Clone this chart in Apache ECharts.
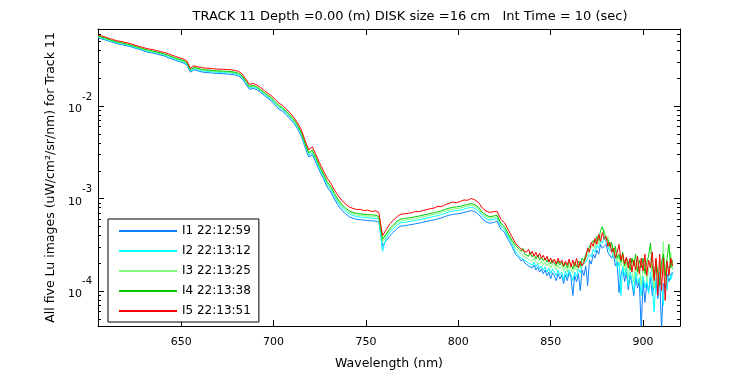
<!DOCTYPE html>
<html>
<head>
<meta charset="utf-8">
<script src="https://cdn.jsdelivr.net/npm/echarts@6/dist/echarts.min.js"></script>
<style>
html,body{margin:0;padding:0;background:#fff;}
#chart{width:750px;height:375px;}
</style>
</head>
<body>
<div id="chart"></div>
<script>
// ---------- data ----------
const wavelength = [
605,607,609,611,613,615,617,619,621,623,625,627,629,631,633,635,637,639,641,643,
645,647,649,651,653,655,657,659,661,663,665,667,669,671,673,675,677,679,681,683,
685,687,689,691,693,695,697,699,701,703,705,707,709,711,713,715,717,719,721,723,
725,727,729,731,733,735,737,739,741,743,745,747,749,751,753,755,757,759,761,763,
765,767,769,771,773,775,777,779,781,783,785,787,789,791,793,795,797,799,801,803,
805,807,809,811,813,815,817,819,821,823,825,827,829,
830,831,832,833,834,835,836,837,838,839,840,841,842,843,844,845,846,847,848,849,
850,851,852,853,854,855,856,857,858,859,860,861,862,863,864,865,866,867,868,869,
870,871,872,873,874,875,876,877,878,879,880,881,882,883,884,885,886,887,888,889,
890,891,892,893,894,895,896,897,898,899,900,901,902,903,904,905,906,907,908,909,
910,911,912,913,914,915,916
];

const I1 = [
5.46e-2,5.31e-2,5.17e-2,5.01e-2,4.87e-2,4.73e-2,4.65e-2,4.55e-2,4.46e-2,4.35e-2,
4.23e-2,4.11e-2,4.00e-2,3.86e-2,3.78e-2,3.72e-2,3.64e-2,3.55e-2,3.47e-2,3.33e-2,
3.22e-2,3.11e-2,3.01e-2,2.93e-2,2.78e-2,2.32e-2,2.47e-2,2.40e-2,2.34e-2,2.30e-2,
2.29e-2,2.27e-2,2.25e-2,2.24e-2,2.23e-2,2.22e-2,2.20e-2,2.17e-2,2.10e-2,1.97e-2,
1.73e-2,1.51e-2,1.55e-2,1.50e-2,1.40e-2,1.30e-2,1.21e-2,1.13e-2,1.01e-2,9.23e-3,
8.72e-3,7.96e-3,7.23e-3,6.48e-3,5.66e-3,4.69e-3,3.60e-3,2.82e-3,2.96e-3,2.43e-3,
1.97e-3,1.64e-3,1.33e-3,1.17e-3,9.86e-4,8.38e-4,7.42e-4,6.81e-4,6.33e-4,6.10e-4,
5.94e-4,5.88e-4,5.83e-4,5.76e-4,5.74e-4,5.68e-4,5.53e-4,3.03e-4,3.51e-4,3.97e-4,
4.34e-4,4.77e-4,5.04e-4,5.07e-4,5.16e-4,5.22e-4,5.33e-4,5.42e-4,5.53e-4,5.65e-4,
5.77e-4,5.87e-4,6.02e-4,6.17e-4,6.39e-4,6.58e-4,6.71e-4,6.80e-4,6.89e-4,7.04e-4,
7.23e-4,7.38e-4,7.18e-4,6.72e-4,6.02e-4,5.60e-4,5.39e-4,5.49e-4,5.67e-4,4.66e-4,
4.28e-4,3.60e-4,3.03e-4,
2.75e-4,2.49e-4,2.37e-4,2.26e-4,2.10e-4,2.21e-4,2.00e-4,2.05e-4,1.86e-4,1.95e-4,
1.77e-4,1.90e-4,1.68e-4,1.81e-4,1.60e-4,1.73e-4,1.53e-4,1.68e-4,1.46e-4,1.60e-4,
1.35e-4,1.57e-4,1.46e-4,1.29e-4,1.53e-4,1.35e-4,1.49e-4,1.20e-4,1.49e-4,1.29e-4,
1.57e-4,1.39e-4,8.91e-5,1.46e-4,1.26e-4,1.53e-4,1.01e-4,1.68e-4,1.46e-4,1.86e-4,
1.14e-4,2.15e-4,1.95e-4,2.49e-4,2.26e-4,2.75e-4,2.49e-4,3.19e-4,2.89e-4,3.03e-4,
3.19e-4,2.62e-4,2.75e-4,2.26e-4,2.49e-4,1.86e-4,2.05e-4,9.59e-5,1.46e-4,1.77e-4,
1.26e-4,1.60e-4,1.03e-4,1.46e-4,1.20e-4,8.91e-5,1.39e-4,1.08e-4,1.26e-4,3.78e-5,
1.32e-4,7.51e-5,1.20e-4,9.83e-5,1.39e-4,8.91e-5,1.14e-4,1.26e-4,8.28e-5,1.46e-4,
3.78e-5,1.20e-4,1.08e-4,1.53e-4,1.26e-4,1.46e-4,1.60e-4
];

const I2 = [
5.57e-2,5.42e-2,5.27e-2,5.11e-2,4.97e-2,4.83e-2,4.74e-2,4.65e-2,4.55e-2,4.44e-2,
4.31e-2,4.19e-2,4.09e-2,3.95e-2,3.87e-2,3.81e-2,3.72e-2,3.64e-2,3.55e-2,3.42e-2,
3.31e-2,3.20e-2,3.09e-2,3.01e-2,2.86e-2,2.39e-2,2.54e-2,2.47e-2,2.41e-2,2.37e-2,
2.37e-2,2.34e-2,2.32e-2,2.31e-2,2.30e-2,2.29e-2,2.27e-2,2.24e-2,2.17e-2,2.04e-2,
1.79e-2,1.57e-2,1.60e-2,1.55e-2,1.45e-2,1.35e-2,1.25e-2,1.17e-2,1.05e-2,9.63e-3,
9.09e-3,8.30e-3,7.54e-3,6.76e-3,5.90e-3,4.92e-3,3.77e-3,2.96e-3,3.12e-3,2.57e-3,
2.08e-3,1.73e-3,1.42e-3,1.25e-3,1.05e-3,8.97e-4,7.94e-4,7.29e-4,6.77e-4,6.53e-4,
6.35e-4,6.29e-4,6.23e-4,6.17e-4,6.14e-4,6.08e-4,5.92e-4,2.68e-4,3.79e-4,4.31e-4,
4.72e-4,5.18e-4,5.47e-4,5.51e-4,5.61e-4,5.67e-4,5.78e-4,5.88e-4,6.00e-4,6.13e-4,
6.27e-4,6.37e-4,6.54e-4,6.70e-4,6.93e-4,7.14e-4,7.28e-4,7.39e-4,7.48e-4,7.65e-4,
7.86e-4,8.01e-4,7.80e-4,7.30e-4,6.49e-4,6.04e-4,5.82e-4,5.92e-4,6.07e-4,4.99e-4,
4.58e-4,3.85e-4,3.24e-4,
2.89e-4,2.68e-4,2.49e-4,2.43e-4,2.26e-4,2.32e-4,2.15e-4,2.21e-4,2.00e-4,2.10e-4,
1.90e-4,2.05e-4,1.81e-4,1.95e-4,1.73e-4,1.86e-4,1.68e-4,1.81e-4,1.60e-4,1.77e-4,
1.53e-4,1.73e-4,1.60e-4,1.46e-4,1.68e-4,1.49e-4,1.60e-4,1.32e-4,1.64e-4,1.42e-4,
1.68e-4,1.49e-4,1.29e-4,1.60e-4,1.42e-4,1.73e-4,1.57e-4,1.86e-4,1.77e-4,2.05e-4,
2.15e-4,2.49e-4,2.32e-4,2.82e-4,2.62e-4,3.11e-4,2.89e-4,3.51e-4,3.27e-4,3.87e-4,
3.35e-4,3.51e-4,2.68e-4,2.89e-4,2.26e-4,2.49e-4,1.77e-4,2.05e-4,8.91e-5,1.86e-4,
1.46e-4,1.77e-4,1.14e-4,1.60e-4,1.32e-4,9.83e-5,1.60e-4,1.20e-4,1.39e-4,8.91e-5,
1.46e-4,1.08e-4,1.32e-4,9.36e-5,1.60e-4,1.20e-4,5.88e-5,1.39e-4,8.91e-5,1.60e-4,
1.14e-4,6.98e-5,1.46e-4,1.01e-4,1.86e-4,1.32e-4,1.53e-4
];

const I3 = [
5.64e-2,5.49e-2,5.34e-2,5.17e-2,5.03e-2,4.89e-2,4.80e-2,4.70e-2,4.61e-2,4.49e-2,
4.37e-2,4.24e-2,4.14e-2,4.01e-2,3.93e-2,3.86e-2,3.78e-2,3.69e-2,3.61e-2,3.48e-2,
3.36e-2,3.25e-2,3.14e-2,3.06e-2,2.91e-2,2.42e-2,2.58e-2,2.51e-2,2.46e-2,2.42e-2,
2.41e-2,2.38e-2,2.36e-2,2.35e-2,2.34e-2,2.33e-2,2.31e-2,2.28e-2,2.22e-2,2.09e-2,
1.82e-2,1.60e-2,1.64e-2,1.58e-2,1.48e-2,1.37e-2,1.28e-2,1.20e-2,1.08e-2,9.88e-3,
9.32e-3,8.51e-3,7.73e-3,6.93e-3,6.05e-3,5.07e-3,3.89e-3,3.05e-3,3.23e-3,2.66e-3,
2.16e-3,1.79e-3,1.47e-3,1.29e-3,1.09e-3,9.35e-4,8.29e-4,7.60e-4,7.06e-4,6.81e-4,
6.62e-4,6.56e-4,6.50e-4,6.43e-4,6.41e-4,6.34e-4,6.17e-4,3.35e-4,3.97e-4,4.54e-4,
4.96e-4,5.45e-4,5.75e-4,5.80e-4,5.90e-4,5.97e-4,6.08e-4,6.19e-4,6.31e-4,6.45e-4,
6.60e-4,6.71e-4,6.88e-4,7.05e-4,7.29e-4,7.51e-4,7.66e-4,7.77e-4,7.87e-4,8.04e-4,
8.26e-4,8.42e-4,8.20e-4,7.68e-4,6.79e-4,6.32e-4,6.09e-4,6.19e-4,6.33e-4,5.20e-4,
4.77e-4,4.02e-4,3.38e-4,
3.11e-4,2.89e-4,2.75e-4,2.62e-4,2.49e-4,2.56e-4,2.32e-4,2.43e-4,2.21e-4,2.32e-4,
2.10e-4,2.26e-4,2.05e-4,2.15e-4,1.95e-4,2.10e-4,1.90e-4,2.05e-4,1.86e-4,2.00e-4,
1.77e-4,1.95e-4,1.81e-4,1.68e-4,1.90e-4,1.73e-4,1.86e-4,1.64e-4,1.81e-4,1.60e-4,
1.86e-4,1.68e-4,1.57e-4,1.86e-4,1.64e-4,1.95e-4,1.77e-4,2.05e-4,1.95e-4,2.26e-4,
2.37e-4,2.75e-4,2.62e-4,3.19e-4,2.89e-4,3.51e-4,3.19e-4,3.87e-4,4.07e-4,4.60e-4,
3.51e-4,3.87e-4,2.89e-4,3.19e-4,2.37e-4,2.75e-4,2.05e-4,2.37e-4,1.86e-4,2.26e-4,
1.64e-4,2.05e-4,1.39e-4,1.95e-4,1.60e-4,1.26e-4,2.05e-4,1.46e-4,1.86e-4,1.14e-4,
1.77e-4,1.95e-4,1.26e-4,1.68e-4,2.26e-4,1.46e-4,1.08e-4,1.86e-4,1.29e-4,2.05e-4,
1.53e-4,3.43e-4,1.20e-4,1.95e-4,1.60e-4,2.62e-4,1.68e-4
];

const I4 = [
5.71e-2,5.55e-2,5.40e-2,5.23e-2,5.09e-2,4.94e-2,4.86e-2,4.76e-2,4.66e-2,4.54e-2,
4.42e-2,4.29e-2,4.19e-2,4.06e-2,3.98e-2,3.91e-2,3.83e-2,3.74e-2,3.65e-2,3.53e-2,
3.42e-2,3.30e-2,3.19e-2,3.11e-2,2.95e-2,2.46e-2,2.62e-2,2.55e-2,2.50e-2,2.46e-2,
2.45e-2,2.42e-2,2.40e-2,2.39e-2,2.38e-2,2.37e-2,2.35e-2,2.32e-2,2.26e-2,2.12e-2,
1.86e-2,1.63e-2,1.67e-2,1.61e-2,1.50e-2,1.40e-2,1.30e-2,1.22e-2,1.10e-2,1.01e-2,
9.52e-3,8.69e-3,7.90e-3,7.08e-3,6.19e-3,5.20e-3,3.99e-3,3.13e-3,3.33e-3,2.74e-3,
2.22e-3,1.84e-3,1.52e-3,1.34e-3,1.13e-3,9.70e-4,8.60e-4,7.89e-4,7.33e-4,7.07e-4,
6.88e-4,6.81e-4,6.75e-4,6.68e-4,6.65e-4,6.58e-4,6.40e-4,3.62e-4,4.13e-4,4.74e-4,
5.18e-4,5.69e-4,6.01e-4,6.05e-4,6.16e-4,6.23e-4,6.36e-4,6.46e-4,6.60e-4,6.74e-4,
6.89e-4,7.01e-4,7.18e-4,7.36e-4,7.62e-4,7.85e-4,8.00e-4,8.12e-4,8.22e-4,8.40e-4,
8.63e-4,8.80e-4,8.57e-4,8.02e-4,7.08e-4,6.58e-4,6.34e-4,6.45e-4,6.57e-4,5.40e-4,
4.95e-4,4.17e-4,3.51e-4,
3.35e-4,3.11e-4,3.03e-4,2.82e-4,2.68e-4,2.89e-4,2.49e-4,2.56e-4,2.37e-4,2.62e-4,
2.32e-4,2.49e-4,2.21e-4,2.43e-4,2.15e-4,2.32e-4,2.10e-4,2.26e-4,2.05e-4,2.21e-4,
1.95e-4,2.15e-4,2.05e-4,1.86e-4,2.10e-4,1.90e-4,2.05e-4,1.81e-4,2.00e-4,1.77e-4,
2.05e-4,1.95e-4,1.73e-4,2.05e-4,1.81e-4,2.10e-4,1.86e-4,2.26e-4,2.10e-4,2.49e-4,
2.68e-4,3.03e-4,2.89e-4,3.51e-4,3.27e-4,3.87e-4,3.51e-4,4.49e-4,4.95e-4,4.07e-4,
4.27e-4,3.51e-4,3.03e-4,3.35e-4,2.62e-4,3.03e-4,2.26e-4,2.49e-4,2.05e-4,2.62e-4,
1.86e-4,2.26e-4,2.05e-4,1.68e-4,2.26e-4,1.86e-4,2.49e-4,1.60e-4,2.15e-4,1.77e-4,
2.26e-4,1.53e-4,2.05e-4,2.37e-4,3.27e-4,1.86e-4,1.39e-4,2.15e-4,1.60e-4,1.14e-4,
2.05e-4,2.49e-4,1.46e-4,2.26e-4,3.19e-4,1.77e-4,2.15e-4
];

const I5 = [
5.88e-2,5.72e-2,5.56e-2,5.39e-2,5.24e-2,5.09e-2,5.00e-2,4.90e-2,4.80e-2,4.68e-2,
4.55e-2,4.42e-2,4.31e-2,4.20e-2,4.12e-2,4.05e-2,3.96e-2,3.87e-2,3.78e-2,3.67e-2,
3.55e-2,3.43e-2,3.32e-2,3.23e-2,3.07e-2,2.56e-2,2.72e-2,2.65e-2,2.61e-2,2.57e-2,
2.56e-2,2.53e-2,2.51e-2,2.50e-2,2.49e-2,2.48e-2,2.46e-2,2.42e-2,2.37e-2,2.23e-2,
1.95e-2,1.71e-2,1.75e-2,1.69e-2,1.58e-2,1.47e-2,1.37e-2,1.28e-2,1.17e-2,1.07e-2,
1.01e-2,9.22e-3,8.38e-3,7.51e-3,6.56e-3,5.57e-3,4.27e-3,3.35e-3,3.60e-3,2.96e-3,
2.40e-3,1.99e-3,1.66e-3,1.46e-3,1.23e-3,1.07e-3,9.48e-4,8.70e-4,8.08e-4,7.79e-4,
7.58e-4,7.62e-4,7.36e-4,7.48e-4,7.22e-4,7.34e-4,7.06e-4,3.95e-4,4.60e-4,5.33e-4,
5.83e-4,6.40e-4,6.76e-4,6.81e-4,6.93e-4,7.01e-4,7.25e-4,7.18e-4,7.42e-4,7.58e-4,
7.75e-4,7.88e-4,8.22e-4,8.15e-4,8.57e-4,8.83e-4,9.15e-4,8.98e-4,9.25e-4,9.62e-4,
9.55e-4,1.00e-3,9.64e-4,9.02e-4,7.88e-4,7.33e-4,7.06e-4,7.18e-4,7.24e-4,5.95e-4,
5.46e-4,4.60e-4,3.87e-4,
3.69e-4,3.27e-4,3.43e-4,2.96e-4,3.11e-4,2.75e-4,2.89e-4,2.62e-4,2.82e-4,2.49e-4,
2.68e-4,2.37e-4,2.62e-4,2.32e-4,2.56e-4,2.26e-4,2.43e-4,2.15e-4,2.37e-4,2.05e-4,
2.26e-4,2.00e-4,2.21e-4,1.95e-4,2.26e-4,2.00e-4,2.15e-4,1.86e-4,2.10e-4,1.90e-4,
2.21e-4,1.81e-4,2.15e-4,1.86e-4,2.26e-4,1.77e-4,2.10e-4,1.86e-4,2.05e-4,2.32e-4,
2.89e-4,2.62e-4,3.35e-4,3.03e-4,3.69e-4,3.19e-4,4.07e-4,3.43e-4,4.27e-4,3.60e-4,
3.87e-4,3.03e-4,3.35e-4,2.62e-4,2.89e-4,2.26e-4,2.62e-4,3.19e-4,2.15e-4,2.49e-4,
1.95e-4,2.32e-4,1.77e-4,2.26e-4,1.60e-4,2.15e-4,1.68e-4,2.37e-4,1.53e-4,2.26e-4,
1.64e-4,2.49e-4,1.46e-4,2.15e-4,1.77e-4,2.62e-4,1.29e-4,2.26e-4,8.91e-5,2.49e-4,
1.01e-4,2.26e-4,7.88e-5,2.10e-4,1.46e-4,2.26e-4,1.86e-4
];

const seriesNames = ['I1 22:12:59', 'I2 22:13:12', 'I3 22:13:25', 'I4 22:13:38', 'I5 22:13:51'];
const seriesColors = ['#0a80ff', '#00ffff', '#80ff80', '#00c800', '#ff0000'];
const seriesValues = [I1, I2, I3, I4, I5];

const xRange = [605, 920];
const yRange = [4.17e-5, 0.068];
const minorTickValues = [
  5e-5,6e-5,7e-5,8e-5,9e-5,
  2e-4,3e-4,4e-4,5e-4,6e-4,7e-4,8e-4,9e-4,
  2e-3,3e-3,4e-3,5e-3,6e-3,7e-3,8e-3,9e-3,
  2e-2,3e-2,4e-2,5e-2,6e-2
];

const titleText = 'TRACK 11 Depth =0.00 (m) DISK size =16 cm   Int Time = 10 (sec)';
const xName = 'Wavelength (nm)';
const yName = 'All five Lu images (uW/cm\u00B2/sr/nm) for Track 11';

// ---------- chart ----------
const FONT = 'DejaVu Sans';
const chart = echarts.init(document.getElementById('chart'), null, {renderer: 'canvas'});

const lineSeries = seriesValues.map((vals, i) => ({
  name: seriesNames[i],
  type: 'line',
  xAxisIndex: 0,
  yAxisIndex: 0,
  data: wavelength.map((w, j) => [w, vals[j]]),
  showSymbol: false,
  symbol: 'none',
  color: seriesColors[i],
  itemStyle: {color: seriesColors[i]},
  lineStyle: {width: 1, color: seriesColors[i]},
  emphasis: {disabled: true},
  clip: true,
  animation: false,
  z: 2 + i
}));

const minorTickSeries = {
  name: 'minorTicks',
  type: 'custom',
  xAxisIndex: 0,
  yAxisIndex: 0,
  silent: true,
  clip: false,
  animation: false,
  z: 10,
  data: minorTickValues.map(v => [xRange[0], v]),
  renderItem: function (params, api) {
    const pL = api.coord([xRange[0], api.value(1)]);
    const pR = api.coord([xRange[1], api.value(1)]);
    const y = Math.round(pL[1]) + 0.5;
    return {
      type: 'group',
      children: [
        {type: 'line', shape: {x1: pL[0], y1: y, x2: pL[0] + 3, y2: y}, style: {stroke: '#000', lineWidth: 1}},
        {type: 'line', shape: {x1: pR[0] - 3, y1: y, x2: pR[0], y2: y}, style: {stroke: '#000', lineWidth: 1}}
      ]
    };
  }
};

const axisLineStyle = {show: true, lineStyle: {color: '#000', width: 1}};

const option = {
  backgroundColor: '#ffffff',
  animation: false,
  title: {
    text: titleText,
    left: 405,
    top: 5,
    textAlign: 'center',
    textStyle: {fontFamily: FONT, fontSize: 13, fontWeight: 'normal', color: '#000'}
  },
  legend: {
    data: seriesNames.map((n, i) => ({name: n, itemStyle: {color: seriesColors[i]}})),
    orient: 'vertical',
    left: 108,
    top: 219,
    padding: [5, 8, 4, 11],
    itemWidth: 58,
    itemHeight: 2,
    itemGap: 6,
    icon: 'rect',
    backgroundColor: '#ffffff',
    borderColor: '#000',
    borderWidth: 1,
    borderRadius: 0,
    selectedMode: false,
    textStyle: {fontFamily: FONT, fontSize: 12, color: '#000', lineHeight: 14}
  },
  grid: {left: 98, right: 70, top: 29, bottom: 44, containLabel: false},
  xAxis: [
    {
      type: 'value', position: 'bottom', min: xRange[0], max: xRange[1],
      name: xName, nameLocation: 'middle', nameGap: 31,
      nameTextStyle: {fontFamily: FONT, fontSize: 12.5, color: '#000'},
      axisLine: axisLineStyle,
      axisTick: {show: true, inside: true, length: 6, lineStyle: {color: '#000'}},
      axisLabel: {show: true, showMinLabel: false, showMaxLabel: false, margin: 11,
        fontFamily: FONT, fontSize: 11, color: '#000'},
      splitLine: {show: false}
    },
    {
      type: 'value', position: 'top', min: xRange[0], max: xRange[1],
      axisLine: axisLineStyle,
      axisTick: {show: true, inside: true, length: 6, lineStyle: {color: '#000'}},
      axisLabel: {show: false},
      splitLine: {show: false}
    }
  ],
  yAxis: [
    {
      type: 'log', logBase: 10, position: 'left', min: yRange[0], max: yRange[1],
      name: yName, nameLocation: 'middle', nameGap: 31, nameRotate: 90,
      nameTextStyle: {fontFamily: FONT, fontSize: 12.5, color: '#000'},
      axisLine: axisLineStyle,
      axisTick: {show: true, inside: true, length: 6, lineStyle: {color: '#000'}},
      axisLabel: {
        show: true, showMinLabel: false, showMaxLabel: false, margin: 6,
        formatter: function (v) {
          const e = Math.round(Math.log10(v));
          return '{b|10}{e|' + e + '}';
        },
        rich: {
          b: {fontFamily: FONT, fontSize: 11, color: '#000', verticalAlign: 'bottom', padding: [0, 0, 5, 0]},
          e: {fontFamily: FONT, fontSize: 10, color: '#000', verticalAlign: 'top', padding: [0, 0, 18, 0]}
        }
      },
      splitLine: {show: false}
    },
    {
      type: 'log', logBase: 10, position: 'right', min: yRange[0], max: yRange[1],
      axisLine: axisLineStyle,
      axisTick: {show: true, inside: true, length: 6, lineStyle: {color: '#000'}},
      axisLabel: {show: false},
      splitLine: {show: false}
    }
  ],
  series: lineSeries.concat([minorTickSeries])
};

chart.setOption(option);
</script>
</body>
</html>
